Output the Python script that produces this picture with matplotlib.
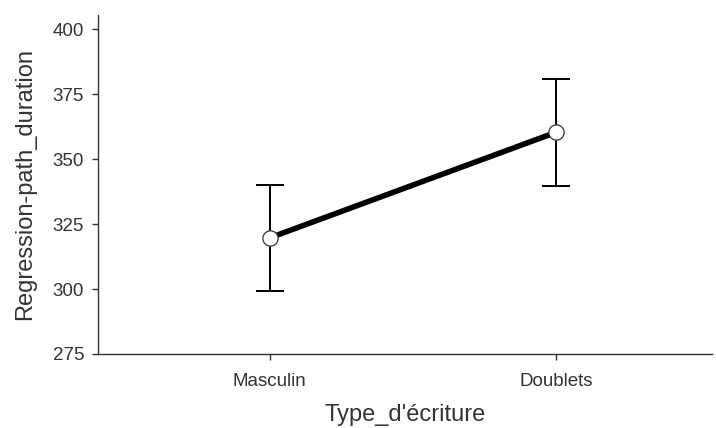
import matplotlib
matplotlib.use("Agg")
import matplotlib.pyplot as plt

categories = ["Masculin", "Doublets"]
means = [319.7, 360.3]
errors = [20.4, 20.5]
yticks = [275, 300, 325, 350, 375, 400]

plt.rcParams['font.family'] = ['Liberation Sans', 'DejaVu Sans']

fig = plt.figure(figsize=(7.16, 4.28), dpi=100)
ax = fig.add_axes([0.137, 0.173, 0.857, 0.792])

x = list(range(len(categories)))
ax.errorbar(x, means, yerr=errors, fmt='none', ecolor='black', elinewidth=1.4,
            capsize=10, capthick=1.4, zorder=2)
ax.plot(x, means, color='black', linewidth=4.0, zorder=3)
ax.plot(x, means, linestyle='none', marker='o', markersize=11,
        markerfacecolor='white', markeredgecolor='#333333', markeredgewidth=0.9, zorder=4)

ax.set_xlim(-0.6, 1.545)
ax.set_ylim(275, 405.5)
ax.set_xticks(x)
ax.set_xticklabels(categories)
ax.set_yticks(yticks)

for s in ['top', 'right']:
    ax.spines[s].set_visible(False)
for s in ['left', 'bottom']:
    ax.spines[s].set_color('#333333')
    ax.spines[s].set_linewidth(1.0)

ax.tick_params(axis='both', colors='#333333', labelcolor='#333333', labelsize=13.5,
               length=4, width=1.0)
ax.tick_params(axis='x', pad=10)
ax.tick_params(axis='y', pad=6)
ax.set_xlabel("Type_d'écriture", fontsize=17, color='#333333', labelpad=10)
ax.set_ylabel("Regression-path_duration", fontsize=17, color='#333333', labelpad=12)

fig.savefig("out.png", dpi=100)
